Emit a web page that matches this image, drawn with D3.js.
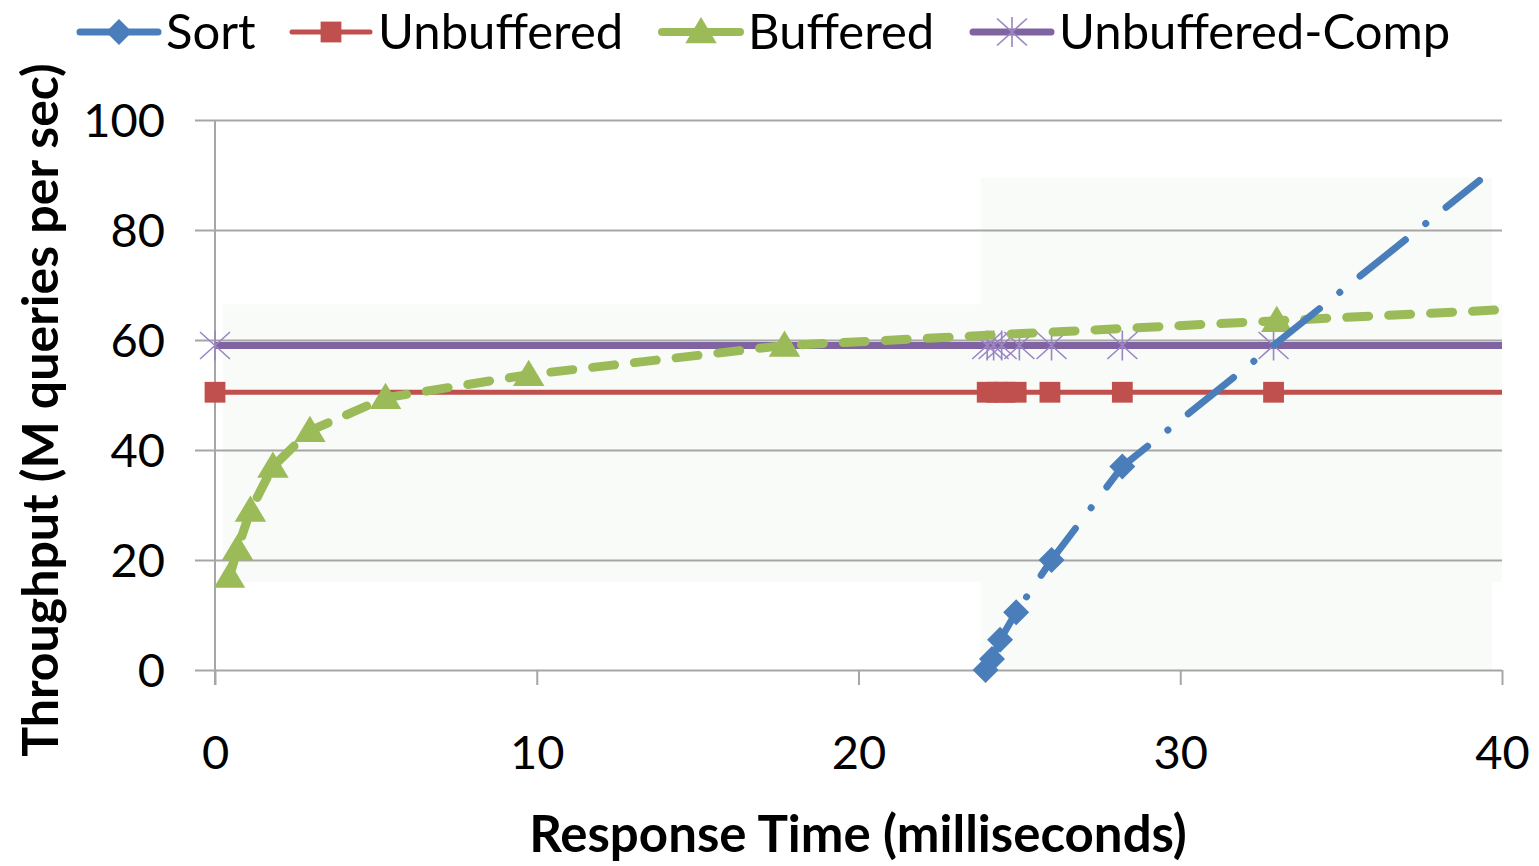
<!DOCTYPE html>
<html>
<head>
<meta charset="utf-8">
<script src="https://cdn.jsdelivr.net/npm/d3@7"></script>
<style>
  body { margin: 0; background: #fff; }
  text { font-family: Lato, "Open Sans", sans-serif; fill: #000; }
</style>
</head>
<body>
<svg width="1539" height="866"></svg>
<script>
// data (x = response time ms, y = M queries/sec)
var sortX = [23.95, 24.15, 24.4, 24.9, 26.0, 28.2, 39.3];
var sortY = [0, 2, 5.5, 10.5, 20, 37, 89];
var unbufX = [0, 24.0, 24.3, 24.55, 24.9, 25.95, 28.2, 32.9, 40];
var unbufY = [50.5, 50.5, 50.5, 50.5, 50.5, 50.5, 50.5, 50.5, 50.5];
var bufX = [0.45, 0.7, 1.1, 1.8, 2.95, 5.3, 9.75, 17.7, 33.0, 40];
var bufY = [17, 22, 29, 37, 43.5, 49.5, 53.7, 59, 63.5, 65.5];
var compX = [0, 24.0, 24.2, 24.45, 25.0, 26.0, 28.2, 32.9, 40];
var compY = [59, 59, 59, 59, 59, 59, 59, 59, 59];
var xTicks = [0, 10, 20, 30, 40];
var yTicks = [0, 20, 40, 60, 80, 100];

var series = [
  {name: 'Sort', xs: sortX, ys: sortY, color: '#4a7ebb', width: 7, dash: '58 26 0.1 26', marker: 'diamond'},
  {name: 'Unbuffered', xs: unbufX, ys: unbufY, color: '#c0504d', width: 5, dash: null, marker: 'square'},
  {name: 'Buffered', xs: bufX, ys: bufY, color: '#9bbb59', width: 9, dash: '22 20', marker: 'triangle'},
  {name: 'Unbuffered-Comp', xs: compX, ys: compY, color: '#8064a2', width: 7, dash: null, marker: 'star'}
];

var svg = d3.select('svg'),
  margin = {top: 120, right: 37, bottom: 196, left: 215},
  width = +svg.attr('width') - margin.left - margin.right,
  height = +svg.attr('height') - margin.top - margin.bottom,
  g = svg.append('g').attr('transform', 'translate(' + margin.left + ',' + margin.top + ')');

var x = d3.scaleLinear().domain([0, 40]).range([0, width]);
var y = d3.scaleLinear().domain([0, 100]).range([height, 0]);

// faint tinted zones seen behind the plot
g.append('rect')
  .attr('x', x(0.25)).attr('y', y(66.5))
  .attr('width', x(40) - x(0.25)).attr('height', y(16) - y(66.5))
  .attr('fill', '#f8fbf8');
g.append('rect')
  .attr('x', x(23.8)).attr('y', y(89.5))
  .attr('width', x(39.7) - x(23.8)).attr('height', y(0) - y(89.5))
  .attr('fill', '#f8fbf8');

// gridlines + y axis
var yAxis = g.append('g')
  .call(d3.axisLeft(y).tickValues(yTicks).tickSize(20).tickPadding(30));
yAxis.select('.domain').remove();
yAxis.selectAll('.tick line').attr('stroke', '#a6a6a6').attr('stroke-width', 2)
  .attr('x2', width).attr('x1', -20);
yAxis.selectAll('.tick text').style('font-size', '47px').attr('dy', '0.36em');
g.append('line')
  .attr('x1', 0).attr('x2', 0).attr('y1', 0).attr('y2', height + 15)
  .attr('stroke', '#a6a6a6').attr('stroke-width', 2);

var xAxis = g.append('g')
  .attr('transform', 'translate(0,' + height + ')')
  .call(d3.axisBottom(x).tickValues(xTicks).tickSize(15).tickPadding(84));
xAxis.select('.domain').remove();
xAxis.selectAll('.tick line').attr('stroke', '#a6a6a6').attr('stroke-width', 2);
xAxis.selectAll('.tick text').style('font-size', '47px').attr('dy', '0');

// axis titles
svg.append('text')
  .attr('x', 858).attr('y', 852)
  .attr('text-anchor', 'middle')
  .style('font-size', '51px').style('font-weight', 'bold')
  .text('Response Time (milliseconds)');
svg.append('text')
  .attr('transform', 'translate(58,410) rotate(-90)')
  .attr('text-anchor', 'middle')
  .style('font-size', '50px').style('font-weight', 'bold')
  .text('Throughput (M queries per sec)');

function drawMarker(sel, type, color, s) {
  if (type === 'diamond') {
    sel.append('path').attr('d', 'M0,' + (-s) + 'L' + s + ',0L0,' + s + 'L' + (-s) + ',0Z').attr('fill', color);
  } else if (type === 'square') {
    sel.append('rect').attr('x', -s * 0.8).attr('y', -s * 0.8).attr('width', s * 1.6).attr('height', s * 1.6).attr('fill', color);
  } else if (type === 'triangle') {
    sel.append('path').attr('d', 'M0,' + (-s) + 'L' + (s * 1.05) + ',' + (s * 0.75) + 'L' + (-s * 1.05) + ',' + (s * 0.75) + 'Z').attr('fill', color);
  } else {
    sel.append('path')
      .attr('d', 'M' + (-s) + ',' + (-s * 0.9) + 'L' + s + ',' + (s * 0.9) + 'M' + s + ',' + (-s * 0.9) + 'L' + (-s) + ',' + (s * 0.9) + 'M0,' + (-s) + 'L0,' + s)
      .attr('stroke', '#9b85c4').attr('stroke-width', 1.6).attr('fill', 'none');
  }
}

var markerSize = {diamond: 13, square: 13, triangle: 15, star: 15};

var line = d3.line().x(function(d) { return x(d[0]); }).y(function(d) { return y(d[1]); });

// draw order: Comp, Unbuffered, Buffered, Sort on top
[3, 1, 2, 0].forEach(function(i) {
  var s = series[i];
  var pts = s.xs.map(function(v, k) { return [v, s.ys[k]]; });
  var sg = g.append('g').attr('class', 'serie');
  sg.append('path')
    .datum(pts)
    .attr('d', line)
    .attr('fill', 'none')
    .attr('stroke', s.color)
    .attr('stroke-width', s.width)
    .attr('stroke-linecap', s.dash ? 'round' : 'butt')
    .attr('stroke-dasharray', s.dash);
  // the last point of each series shows no marker
  sg.selectAll('.m')
    .data(pts.slice(0, -1))
    .enter()
    .append('g')
    .attr('class', 'm')
    .attr('transform', function(d) { return 'translate(' + x(d[0]) + ',' + y(d[1]) + ')'; })
    .each(function() { drawMarker(d3.select(this), s.marker, s.color, markerSize[s.marker]); });
});

// legend
var legendPos = [80, 292, 662, 973];
var legend = svg.selectAll('.legend')
  .data(series)
  .enter()
  .append('g')
  .attr('class', 'legend')
  .attr('transform', function(d, i) { return 'translate(' + legendPos[i] + ',32)'; });
legend.append('line')
  .attr('x1', 0).attr('x2', 78)
  .attr('stroke', function(d) { return d.color; })
  .attr('stroke-width', function(d) { return Math.min(d.width, 8); })
  .attr('stroke-linecap', 'round');
legend.each(function(d) {
  var m = d3.select(this).append('g').attr('transform', 'translate(39,0)');
  drawMarker(m, d.marker, d.color, markerSize[d.marker]);
});
legend.append('text')
  .attr('x', 86)
  .attr('dy', '0.35em')
  .style('font-size', '49px')
  .text(function(d) { return d.name; });
</script>
</body>
</html>
